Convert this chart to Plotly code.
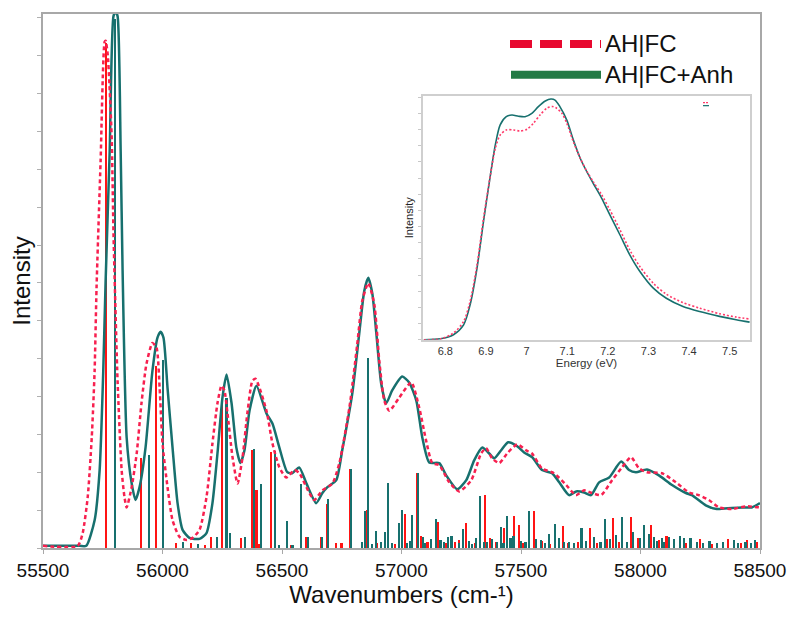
import plotly.graph_objects as go

# ---------------- main spectrum: convoluted curves ----------------
fc_wn = [55500, 55645, 55666, 55687, 55704, 55716, 55724, 55741, 55758, 55762, 55771, 55787, 55795,
         55800, 55812, 55829, 55841, 55850, 55871, 55892, 55912, 55933, 55958, 55975, 55988, 56000,
         56021, 56042, 56071, 56101, 56126, 56155, 56184, 56209, 56230, 56247, 56259, 56272, 56293,
         56314, 56335, 56355, 56376, 56389, 56435, 56460, 56489, 56518, 56552, 56573, 56602, 56635,
         56669, 56711, 56740, 56782, 56815, 56836, 56861, 56886, 56907, 56928, 56949, 56991, 57041,
         57074, 57103, 57129, 57158, 57200, 57241, 57292, 57333, 57354, 57379, 57409, 57442, 57484,
         57521, 57546, 57588, 57638, 57689, 57730, 57764, 57797, 57835, 57881, 57923, 57960, 57994,
         58027, 58090, 58148, 58203, 58244, 58286, 58328, 58382, 58441, 58500]
fc_int = [0.004, 0.004, 0.028, 0.095, 0.207, 0.332, 0.487, 0.724, 0.948, 0.950, 0.923, 0.774, 0.588,
          0.500, 0.313, 0.146, 0.095, 0.076, 0.114, 0.177, 0.271, 0.345, 0.384, 0.375, 0.300, 0.196,
          0.114, 0.052, 0.021, 0.015, 0.019, 0.034, 0.095, 0.196, 0.271, 0.304, 0.295, 0.252, 0.170,
          0.121, 0.170, 0.252, 0.313, 0.317, 0.257, 0.196, 0.151, 0.132, 0.146, 0.140, 0.114, 0.090,
          0.108, 0.121, 0.159, 0.263, 0.382, 0.463, 0.496, 0.457, 0.351, 0.276, 0.257, 0.282, 0.310,
          0.263, 0.201, 0.159, 0.155, 0.123, 0.106, 0.127, 0.177, 0.187, 0.168, 0.159, 0.177, 0.194,
          0.183, 0.177, 0.149, 0.140, 0.118, 0.099, 0.108, 0.103, 0.099, 0.127, 0.151, 0.170, 0.149,
          0.142, 0.140, 0.123, 0.104, 0.099, 0.090, 0.076, 0.073, 0.078, 0.076]

anh_wn = [55500, 55653, 55681, 55716, 55737, 55752, 55762, 55779, 55795, 55804, 55812, 55825, 55833,
          55850, 55871, 55887, 55904, 55929, 55958, 55979, 55992, 56004, 56021, 56042, 56063, 56084,
          56113, 56155, 56184, 56209, 56230, 56251, 56268, 56289, 56309, 56326, 56343, 56364, 56393,
          56435, 56460, 56489, 56522, 56543, 56572, 56602, 56643, 56669, 56690, 56727, 56752, 56794,
          56823, 56844, 56861, 56878, 56895, 56915, 56936, 56961, 57003, 57032, 57062, 57087, 57116,
          57158, 57187, 57233, 57271, 57304, 57338, 57367, 57388, 57417, 57446, 57480, 57513, 57547,
          57588, 57630, 57660, 57701, 57731, 57764, 57793, 57827, 57869, 57919, 57952, 57981, 58027,
          58077, 58132, 58190, 58215, 58273, 58319, 58382, 58424, 58466, 58500]
anh_int = [0.004, 0.004, 0.004, 0.052, 0.146, 0.330, 0.500, 0.743, 0.996, 1.004, 0.996, 0.743, 0.520,
           0.207, 0.121, 0.090, 0.114, 0.188, 0.332, 0.394, 0.405, 0.394, 0.300, 0.188, 0.084, 0.034,
           0.019, 0.017, 0.028, 0.084, 0.177, 0.282, 0.325, 0.271, 0.188, 0.159, 0.183, 0.257, 0.304,
           0.252, 0.233, 0.188, 0.142, 0.140, 0.151, 0.121, 0.084, 0.103, 0.114, 0.127, 0.183, 0.289,
           0.401, 0.481, 0.506, 0.476, 0.401, 0.308, 0.271, 0.295, 0.321, 0.310, 0.276, 0.207, 0.160,
           0.159, 0.136, 0.110, 0.127, 0.164, 0.188, 0.177, 0.168, 0.183, 0.198, 0.192, 0.179, 0.170,
           0.146, 0.140, 0.123, 0.099, 0.106, 0.104, 0.099, 0.123, 0.132, 0.162, 0.146, 0.142, 0.147,
           0.136, 0.118, 0.103, 0.099, 0.080, 0.073, 0.075, 0.076, 0.076, 0.084]

# ---------------- stick spectra ----------------
fc_stick_wn = [55765, 55912, 55974, 56059, 56120, 56180, 56204, 56250, 56328, 56377, 56394, 56403,
               56454, 56538, 56601, 56663, 56688, 56726, 56750, 56786, 56856, 56943, 57015, 57065,
               57081, 57154, 57224, 57270, 57349, 57395, 57430, 57471, 57492, 57555, 57677, 57788,
               57886, 57963, 58045, 58168, 58251, 58367, 58446,
               56900, 56975, 57110, 57185, 57240, 57310, 57372, 57455, 57510, 57590, 57620, 57700,
               57740, 57820, 57860, 57910, 57990, 58080, 58110, 58140, 58190, 58300, 58420, 58490]
fc_stick_h = [0.945, 0.169, 0.340, 0.010, 0.010, 0.006, 0.020, 0.273, 0.019, 0.184, 0.109, 0.008,
              0.180, 0.005, 0.021, 0.020, 0.082, 0.010, 0.010, 0.148, 0.071, 0.117, 0.064, 0.140,
              0.022, 0.048, 0.012, 0.046, 0.100, 0.012, 0.038, 0.060, 0.043, 0.070, 0.041, 0.037,
              0.057, 0.058, 0.044, 0.020, 0.016, 0.016, 0.015,
              0.010, 0.008, 0.012, 0.009, 0.015, 0.010, 0.018, 0.012, 0.010, 0.014, 0.008, 0.010,
              0.012, 0.009, 0.016, 0.012, 0.018, 0.015, 0.022, 0.012, 0.010, 0.008, 0.010, 0.012]

anh_stick_wn = [55804, 55944, 56004, 56088, 56148, 56228, 56269, 56284, 56347, 56383, 56412, 56471,
                56487, 56521, 56545, 56582, 56611, 56670, 56694, 56791, 56836, 56848, 56862, 56879,
                56895, 56931, 56945, 56992, 57003, 57025, 57046, 57070, 57090, 57146, 57164, 57210,
                57258, 57297, 57329, 57360, 57416, 57441, 57457, 57534, 57583, 57618, 57643, 57701,
                57754, 57852, 57924, 58015, 58056, 58091, 58119, 58210, 58321, 58391, 58481,
                56915, 56960, 57035, 57100, 57125, 57178, 57196, 57240, 57282, 57312, 57345, 57380,
                57400, 57428, 57470, 57500, 57520, 57565, 57600, 57660, 57680, 57722, 57772, 57808,
                57834, 57872, 57900, 57945, 57968, 57998, 58035, 58070, 58100, 58140, 58165, 58182,
                58236, 58262, 58290, 58345, 58410, 58440, 58462]
anh_stick_h = [0.990, 0.175, 0.353, 0.012, 0.008, 0.020, 0.281, 0.029, 0.020, 0.186, 0.120, 0.181,
               0.005, 0.050, 0.005, 0.120, 0.021, 0.020, 0.092, 0.148, 0.012, 0.070, 0.356, 0.008,
               0.032, 0.030, 0.121, 0.047, 0.071, 0.010, 0.062, 0.140, 0.020, 0.054, 0.015, 0.022,
               0.035, 0.008, 0.097, 0.012, 0.040, 0.060, 0.018, 0.069, 0.015, 0.027, 0.045, 0.012,
               0.038, 0.054, 0.058, 0.044, 0.020, 0.018, 0.020, 0.018, 0.010, 0.015, 0.015,
               0.012, 0.010, 0.014, 0.010, 0.016, 0.012, 0.020, 0.010, 0.014, 0.018, 0.011, 0.016,
               0.012, 0.010, 0.022, 0.014, 0.012, 0.016, 0.010, 0.018, 0.012, 0.010, 0.014, 0.020,
               0.012, 0.016, 0.024, 0.012, 0.030, 0.018, 0.026, 0.014, 0.012, 0.016, 0.022, 0.018,
               0.012, 0.010, 0.014, 0.012, 0.010, 0.012, 0.010]

# ---------------- inset: broadened spectra vs energy ----------------
inset_fc_e = [6.747, 6.788, 6.820, 6.845, 6.861, 6.878, 6.894, 6.911, 6.923, 6.935, 6.950, 6.968,
              6.984, 7.001, 7.017, 7.033, 7.050, 7.064, 7.074, 7.087, 7.099, 7.115, 7.132, 7.148,
              7.164, 7.185, 7.205, 7.230, 7.254, 7.279, 7.312, 7.344, 7.385, 7.426, 7.475, 7.516, 7.549]
inset_fc_i = [0.000, 0.004, 0.028, 0.076, 0.159, 0.310, 0.503, 0.683, 0.793, 0.848, 0.869, 0.869,
              0.865, 0.872, 0.897, 0.931, 0.959, 0.966, 0.959, 0.938, 0.897, 0.821, 0.752, 0.699,
              0.655, 0.600, 0.538, 0.455, 0.372, 0.303, 0.234, 0.189, 0.154, 0.131, 0.108, 0.094, 0.086]
inset_anh_e = [6.747, 6.788, 6.820, 6.845, 6.861, 6.878, 6.894, 6.911, 6.923, 6.935, 6.950, 6.964,
               6.980, 6.996, 7.013, 7.029, 7.046, 7.060, 7.070, 7.082, 7.099, 7.115, 7.132, 7.148,
               7.164, 7.185, 7.205, 7.230, 7.254, 7.279, 7.312, 7.344, 7.385, 7.426, 7.475, 7.516, 7.549]
inset_anh_i = [0.000, 0.004, 0.021, 0.062, 0.145, 0.297, 0.490, 0.683, 0.807, 0.890, 0.924, 0.931,
               0.926, 0.924, 0.938, 0.966, 0.989, 0.997, 0.993, 0.966, 0.910, 0.828, 0.752, 0.697,
               0.648, 0.586, 0.517, 0.434, 0.352, 0.283, 0.214, 0.172, 0.138, 0.117, 0.097, 0.083, 0.073]

x_ticks = [55500, 56000, 56500, 57000, 57500, 58000, 58500]
legend_labels = ["AH|FC", "AH|FC+Anh"]

RED_STICK = "#ff1414"
TEAL = "#17706e"
RED_CURVE = "#f7204f"
FONT = "Liberation Sans, Arial, sans-serif"

fig = go.Figure()

fig.add_trace(go.Bar(x=fc_stick_wn, y=fc_stick_h, width=7, marker=dict(color=RED_STICK, line_width=0),
                     showlegend=False))
fig.add_trace(go.Bar(x=anh_stick_wn, y=anh_stick_h, width=7, marker=dict(color=TEAL, line_width=0),
                     showlegend=False))
fig.add_trace(go.Scatter(x=anh_wn, y=anh_int, mode="lines",
                         line=dict(color=TEAL, width=2.5, shape="spline", smoothing=0.6),
                         showlegend=False))
fig.add_trace(go.Scatter(x=fc_wn, y=fc_int, mode="lines",
                         line=dict(color=RED_CURVE, width=2.5, dash="4px,3px", shape="spline", smoothing=0.6),
                         showlegend=False))

# inset
fig.add_trace(go.Scatter(x=inset_anh_e, y=inset_anh_i, mode="lines", xaxis="x2", yaxis="y2",
                         line=dict(color=TEAL, width=1.6, shape="spline", smoothing=0.8), showlegend=False))
fig.add_trace(go.Scatter(x=inset_fc_e, y=inset_fc_i, mode="lines", xaxis="x2", yaxis="y2",
                         line=dict(color="#ff3a6a", width=1.6, dash="2px,2px", shape="spline", smoothing=0.8),
                         showlegend=False))

W, H = 800, 620
OFF = 8  # page body margin
L, T = 43 - OFF, 12 - OFF
pw, ph = 717, 536
R = W - L - pw
B = H - T - ph


def px(x):
    return (x - OFF - L) / pw


def py(y):
    return (T + ph - (y - OFF)) / ph


shapes = [
    dict(type="line", xref="paper", yref="paper", x0=px(510), x1=px(601), y0=py(42), y1=py(42),
         line=dict(color="#e8082f", width=8, dash="22px,8px")),
    dict(type="line", xref="paper", yref="paper", x0=px(511), x1=px(601), y0=py(73), y1=py(73),
         line=dict(color="#237a45", width=8)),
    dict(type="line", xref="paper", yref="paper", x0=px(703), x1=px(709), y0=py(101), y1=py(101),
         line=dict(color="#ff3a6a", width=1.2, dash="2px,1px")),
    dict(type="line", xref="paper", yref="paper", x0=px(703), x1=px(709), y0=py(104), y1=py(104),
         line=dict(color=TEAL, width=1.2)),
]
annotations = [
    dict(text=legend_labels[0], xref="paper", yref="paper", x=px(603), y=py(42), xanchor="left",
         yanchor="middle", showarrow=False, font=dict(family=FONT, size=24, color="#111")),
    dict(text=legend_labels[1], xref="paper", yref="paper", x=px(603), y=py(73), xanchor="left",
         yanchor="middle", showarrow=False, font=dict(family=FONT, size=24, color="#111")),
]

fig.update_layout(
    width=W, height=H,
    margin=dict(l=L, r=R, t=T, b=B),
    paper_bgcolor="white", plot_bgcolor="white",
    barmode="overlay", bargap=0,
    font=dict(family=FONT, color="#222"),
    shapes=shapes, annotations=annotations,
    xaxis=dict(range=[55500, 58500], tickvals=x_ticks, ticktext=[str(v) for v in x_ticks],
               showgrid=False, zeroline=False, showline=True, mirror=True, linecolor="#a8a8a8", linewidth=1.5,
               ticks="outside", ticklen=4, tickcolor="#a8a8a8", tickfont=dict(size=19, color="#111"),
               title=dict(text="Wavenumbers (cm-¹)", font=dict(size=24, color="#111"), standoff=4)),
    yaxis=dict(range=[0, 1.0], tick0=0, dtick=0.0709, showticklabels=False, showgrid=False, zeroline=False,
               showline=True, mirror=True, linecolor="#a8a8a8", linewidth=1.5,
               ticks="outside", ticklen=4, tickcolor="#b0b0b0",
               title=dict(text="Intensity", font=dict(size=24, color="#111"), standoff=0)),
    xaxis2=dict(domain=[px(423), px(750)], anchor="y2", range=[6.745, 7.55], dtick=0.1, tick0=6.8,
                showgrid=False, zeroline=False, showline=True, mirror=True, linecolor="#cfcfcf", linewidth=1.5,
                ticks="", tickfont=dict(size=11, color="#333"),
                title=dict(text="Energy (eV)", font=dict(size=11.5, color="#333"), standoff=0)),
    yaxis2=dict(domain=[py(339), py(94)], anchor="x2", range=[0, 1.011], tick0=0, dtick=0.067,
                showticklabels=False, showgrid=False, zeroline=False, showline=True, mirror=True,
                linecolor="#cfcfcf", linewidth=1.5, ticks="outside", ticklen=3, tickcolor="#c8c8c8",
                title=dict(text="Intensity", font=dict(size=11, color="#222"), standoff=2)),
)

fig.write_html("out.html")
